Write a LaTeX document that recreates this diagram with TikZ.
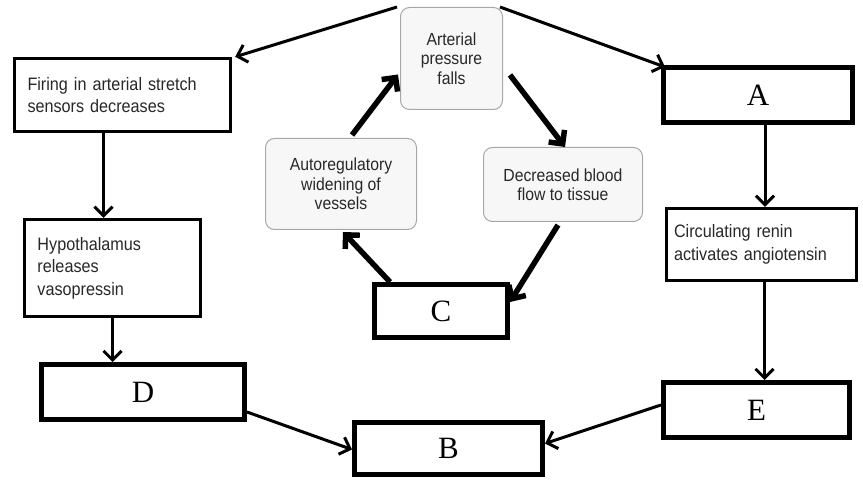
\documentclass[tikz,border=0pt]{standalone}
\usepackage{fontspec}
\setmainfont{Liberation Sans}[FakeStretch=0.9]
\newfontfamily\serifletters{Liberation Serif}
\usetikzlibrary{arrows.meta,calc}
\definecolor{txtgray}{HTML}{282828}
\definecolor{rborder}{HTML}{A8A8A8}
\definecolor{rfill}{HTML}{F7F7F7}
\tikzset{
  sqbox/.style={draw=black, line width=3.4pt, fill=white, text=txtgray,
    font=\fontsize{18}{22.5}\selectfont, align=left, inner sep=0pt},
  letterbox/.style={draw=black, line width=5pt, fill=white,
    font=\serifletters\fontsize{31}{34}\selectfont, inner sep=0pt},
  rbox/.style={draw=rborder, line width=1pt, fill=rfill, rounded corners=9pt,
    text=txtgray, font=\fontsize{17.5}{19.5}\selectfont, align=center, inner sep=0pt},
  arr/.style={line width=3pt, -{Straight Barb[length=9pt,width=18pt]}},
  cyc/.style={line width=5.5pt, -{Straight Barb[length=10pt,width=20pt]}}
}
\begin{document}
\begin{tikzpicture}[x=1pt,y=-1pt]
\useasboundingbox (0,0) rectangle (863,481);
% square boxes
\node[sqbox, minimum width=216pt, minimum height=73pt, text width=190pt] (firing) at (122.5,95)
  {Firing in arterial stretch\\sensors decreases};
\node[sqbox, minimum width=176pt, minimum height=97pt, text width=150pt] (hypo) at (112.5,268)
  {Hypothalamus\\releases\\vasopressin};
\node[sqbox, minimum width=190pt, minimum height=72pt, text width=175pt] (circ) at (761.5,244.5)
  {Circulating renin\\activates angiotensin};
% letter boxes
\node[letterbox, minimum width=189pt, minimum height=55pt] (A) at (758,95) {A};
\node[letterbox, minimum width=203pt, minimum height=55pt] (D) at (143,392) {D};
\node[letterbox, minimum width=188pt, minimum height=52pt] (B) at (448.5,448.5) {B};
\node[letterbox, minimum width=133pt, minimum height=53pt] (C) at (441,311) {C};
\node[letterbox, minimum width=186pt, minimum height=55pt] (E) at (756.5,410) {E};
% rounded boxes
\node[rbox, minimum width=102pt, minimum height=102pt] (art) at (451.5,58.5)
  {Arterial\\pressure\\falls};
\node[rbox, minimum width=159pt, minimum height=74pt] (dec) at (563,184.5)
  {Decreased blood\\flow to tissue};
\node[rbox, minimum width=151pt, minimum height=91pt] (auto) at (341,184)
  {Autoregulatory\\widening of\\vessels};
% outer arrows
\draw[arr] ([xshift=-3pt]art.north west) -- ([xshift=3pt]firing.north east);
\draw[arr] ([xshift=-3pt]art.north east) -- ([xshift=4pt,yshift=-2pt]A.north west);
\draw[arr] ([xshift=-19pt]firing.south) -- ([xshift=-19pt]firing.south |- hypo.north);
\draw[arr] (hypo.south) -- (hypo.south |- D.north);
\draw[arr] ([xshift=7pt]A.south) -- ([xshift=7pt]A.south |- circ.north);
\draw[arr] ([xshift=3pt]circ.south) -- ([xshift=3pt]circ.south |- E.north);
\draw[arr] ([yshift=-20pt]D.east) -- ([yshift=-1pt]B.west);
\draw[arr] ([yshift=5pt]E.west) -- ([yshift=5pt]B.east);
% cycle arrows
\draw[cyc] ([xshift=7pt,yshift=35pt]art.south east) -- ([xshift=2pt]dec.north);
\draw[cyc] ([xshift=-5pt,yshift=-3pt]dec.south) -- ([yshift=9pt]C.east);
\draw[cyc] ([xshift=18pt]C.north west) -- ([xshift=2pt,yshift=-2pt]auto.south);
\draw[cyc] ([xshift=11pt,yshift=3pt]auto.north) -- ([xshift=-2pt,yshift=-16pt]art.west);
\end{tikzpicture}
\end{document}
